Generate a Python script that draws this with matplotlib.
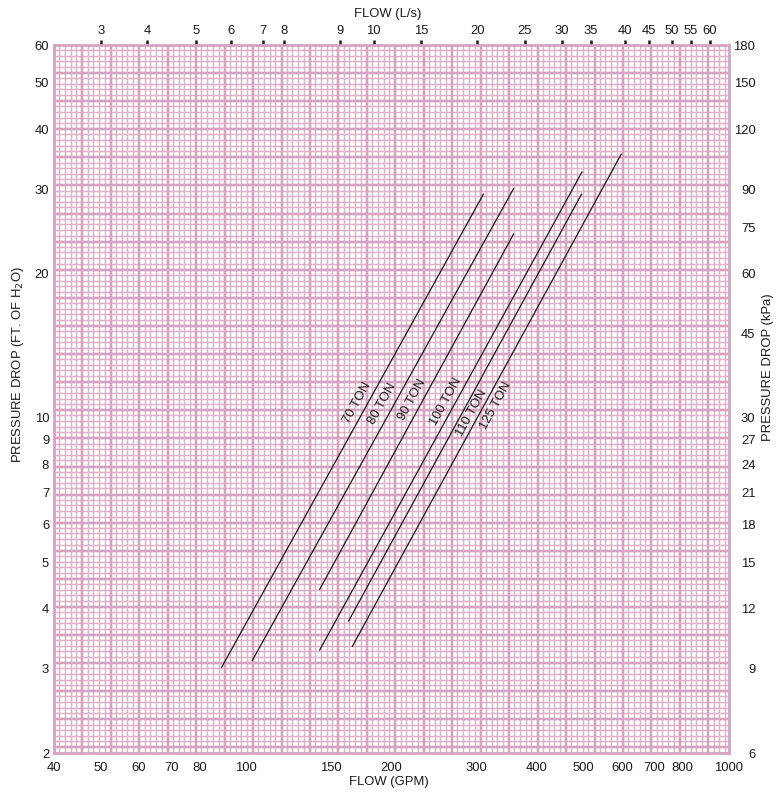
import matplotlib
matplotlib.use("Agg")
import matplotlib.pyplot as plt
from matplotlib.collections import LineCollection
from matplotlib.ticker import NullLocator
import numpy as np

plt.rcParams['font.family'] = ['Liberation Sans', 'DejaVu Sans']

# unit sizes (GPM flow range) and their pressure-drop curves
tons = ['70 TON', '80 TON', '90 TON', '100 TON', '110 TON', '125 TON']
flow_lo = [89, 103, 142, 142, 163, 166]
flow_hi = [310, 358, 358, 496, 495, 598]
drop_lo = [3.02, 3.12, 4.39, 3.28, 3.77, 3.34]
drop_hi = [29.3, 30.1, 24.2, 32.6, 29.3, 35.5]

# where each size label sits (GPM, ft)
label_at = [(169.7, 10.75), (191.2, 10.70), (220.3, 10.89),
            (259.1, 10.82), (292.7, 10.26), (328.8, 10.61)]

gpm_ticks = [40, 50, 60, 70, 80, 100, 150, 200, 300, 400, 500, 600, 700, 800, 1000]
ft_ticks = [2, 3, 4, 5, 6, 7, 8, 9, 10, 20, 30, 40, 50, 60]
kpa_ticks = [6, 9, 12, 15, 18, 21, 24, 27, 30, 45, 60, 75, 90, 120, 150, 180]
lps_labels = [3, 4, 5, 6, 7, 8, 9, 10, 15, 20, 25, 30, 35, 40, 45, 50, 55, 60]
lps_at_gpm = [50, 62.3, 78.7, 93, 108.3, 119.8, 156.2, 183.6, 230, 301,
              378, 450, 518, 609, 683, 761, 834, 912]

W, H = 781, 793
L, R, T, B = 54, 729, 45, 753
pink = '#d6a3c1'
pink_lt = '#deb3cc'
ink = '#1a1a1a'
fs = 9.4

fig = plt.figure(figsize=(W / 100, H / 100), dpi=100)
ax = fig.add_axes([L / W, (H - B) / H, (R - L) / W, (B - T) / H])
ax.set_xscale('log')
ax.set_yscale('log')
ax.set_xlim(40, 1000)
ax.set_ylim(2, 60)

# graph-paper background, ruled every few pixels and snapped to the pixel grid
pw, ph = R - L, B - T
cell_x, cell_y = 28.45, 28.1
minor, major = [], []
k = 0
while k * cell_x / 5 < pw:
    px = k * cell_x / 5
    if k % 5 == 0:
        fx = round(px) / pw
        major.append([(fx, 0), (fx, 1)])
    else:
        fx = (np.floor(px) + 0.5) / pw
        minor.append([(fx, 0), (fx, 1)])
    k += 1
k = 0
while k * cell_y / 5 < ph:
    py = k * cell_y / 5
    if k % 5 == 0:
        fy = 1 - round(py) / ph
        major.append([(0, fy), (1, fy)])
    else:
        fy = 1 - (np.floor(py) + 0.5) / ph
        minor.append([(0, fy), (1, fy)])
    k += 1
ax.add_collection(LineCollection(minor, colors=pink_lt, linewidths=1.1,
                                 transform=ax.transAxes, zorder=0, snap=False))
ax.add_collection(LineCollection(major, colors=pink, linewidths=1.9,
                                 transform=ax.transAxes, zorder=0, snap=False))

for s in ax.spines.values():
    s.set_color(pink)
    s.set_linewidth(2.0)

for i, name in enumerate(tons):
    xs = [flow_lo[i], flow_hi[i]]
    ys = [drop_lo[i], drop_hi[i]]
    ax.plot(xs, ys, color=ink, lw=0.9, zorder=3)
    p0 = ax.transData.transform((xs[0], ys[0]))
    p1 = ax.transData.transform((xs[1], ys[1]))
    ang = np.degrees(np.arctan2(p1[1] - p0[1], p1[0] - p0[0]))
    ax.text(label_at[i][0], label_at[i][1], name, rotation=ang,
            rotation_mode='anchor', ha='center', va='center',
            fontsize=fs, color=ink, zorder=4)

ax.set_xticks(gpm_ticks, labels=[str(v) for v in gpm_ticks])
ax.set_yticks(ft_ticks, labels=[str(v) for v in ft_ticks])
ax.xaxis.set_minor_locator(NullLocator())
ax.yaxis.set_minor_locator(NullLocator())
ax.tick_params(axis='x', length=0, pad=6.5, labelsize=fs, labelcolor=ink)
ax.tick_params(axis='y', length=0, pad=3.5, labelsize=fs, labelcolor=ink)

kpa = ax.secondary_yaxis('right', functions=(lambda y: y * 3, lambda y: y / 3))
kpa.set_yticks(kpa_ticks, labels=[str(v) for v in kpa_ticks])
kpa.yaxis.set_minor_locator(NullLocator())
kpa.tick_params(length=0, pad=19, labelsize=fs, labelcolor=ink)
for lab in kpa.get_yticklabels():
    lab.set_horizontalalignment('right')
kpa.spines['right'].set_visible(False)

lps = ax.secondary_xaxis('top', functions=(lambda x: x, lambda x: x))
lps.set_xticks(lps_at_gpm, labels=[str(v) for v in lps_labels])
lps.xaxis.set_minor_locator(NullLocator())
lps.tick_params(length=3.6, width=1.8, color=ink, pad=2.2, labelsize=fs,
                labelcolor=ink)
lps.spines['top'].set_visible(False)

fig.text(388 / W, 1 - 14 / H, 'FLOW (L/s)', ha='center', va='center',
         fontsize=fs, color=ink)
fig.text(389 / W, 1 - 782 / H, 'FLOW (GPM)', ha='center', va='center',
         fontsize=fs, color=ink)
fig.text(18 / W, 1 - 365 / H, 'PRESSURE DROP (FT. OF H$_2$O)', rotation=90,
         ha='center', va='center', fontsize=fs, color=ink)
fig.text(768 / W, 1 - 367 / H, 'PRESSURE DROP (kPa)', rotation=90,
         ha='center', va='center', fontsize=fs, color=ink)

fig.savefig('out.png', dpi=100)
